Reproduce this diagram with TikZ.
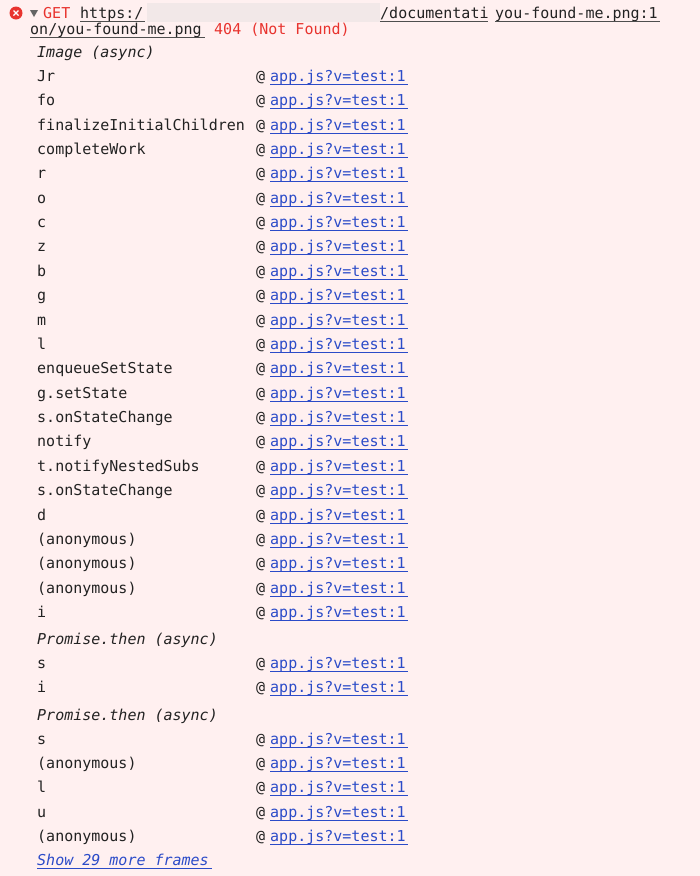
\documentclass[tikz,border=0pt]{standalone}
\usepackage{fontspec}
\setmonofont{DejaVu Sans Mono}
\definecolor{bgpink}{HTML}{FFF0F0}
\definecolor{errred}{HTML}{E8332E}
\definecolor{linkblue}{HTML}{2B4BC8}
\definecolor{txt}{HTML}{222222}
\definecolor{blurc}{HTML}{F2E8E8}
\begin{document}
\begin{tikzpicture}[x=1pt,y=-1pt,
  mono/.style={font=\ttfamily\fontsize{15}{15}\selectfont,inner sep=0pt,anchor=base west,text=txt},
  lnk/.style={mono,text=linkblue},
  ul/.style={draw=linkblue,line width=0.8pt}]
\useasboundingbox (0,0) rectangle (700,876);
\fill[bgpink] (0,0) rectangle (700,876);
% header
\fill[errred] (16,13) circle (6.5);
\draw[white,line width=1.4pt] (13.5,10.5) -- (18.5,15.5) (18.5,10.5) -- (13.5,15.5);
\fill[txt!70] (30,10) -- (38,10) -- (34,17) -- cycle;
\node[mono,text=errred] (get) at (43,18) {GET};
\node[mono] (https) at (80,18) {https:/};
\draw[txt!80,line width=0.7pt] (80,21) -- (145,21);
\fill[blurc] (147,3) rectangle (380,22);
\node[mono] (doc) at (380,18) {/documentati};
\draw[txt!80,line width=0.7pt] (380,21) -- (488,21);
\node[mono] (png) at (495,18) {you-found-me.png:1};
\draw[txt!80,line width=0.7pt] (495,21) -- (660,21);
\node[mono] (png2) at (30,34) {on/you-found-me.png};
\draw[txt!80,line width=0.7pt] (30,37) -- (205,37);
\node[mono,text=errred] (nf) at (214,34) {404 (Not Found)};
% frames
\node[mono,font=\ttfamily\itshape\fontsize{15}{15}\selectfont] (h1) at (37,57) {Image (async)};
\foreach \n/\y in {Jr/76,fo/100,finalizeInitialChildren/125,completeWork/149,r/173,o/198,c/222,z/246,b/271,g/295,m/320,l/344,enqueueSetState/368,g.setState/393,s.onStateChange/417,notify/441,t.notifyNestedSubs/466,s.onStateChange/490,d/515,(anonymous)/539,(anonymous)/563,(anonymous)/588,i/612,s/663,i/687,s/739,(anonymous)/763,l/787,u/812,(anonymous)/836}{
  \node[mono] (fn\y) at (37,\y+5) {\n};
  \node[mono] (at\y) at (256,\y+5) {@};
  \node[lnk] (ln\y) at (270,\y+5) {app.js?v=test:1};
  \draw[ul] (270,\y+8) -- (408,\y+8);
}
\node[mono,font=\ttfamily\itshape\fontsize{15}{15}\selectfont] (h2) at (37,644) {Promise.then (async)};
\node[mono,font=\ttfamily\itshape\fontsize{15}{15}\selectfont] (h3) at (37,720) {Promise.then (async)};
\node[lnk,font=\ttfamily\itshape\fontsize{15}{15}\selectfont] (more) at (37,865) {Show 29 more frames};
\draw[ul] (37,868) -- (212,868);
\end{tikzpicture}
\end{document}
